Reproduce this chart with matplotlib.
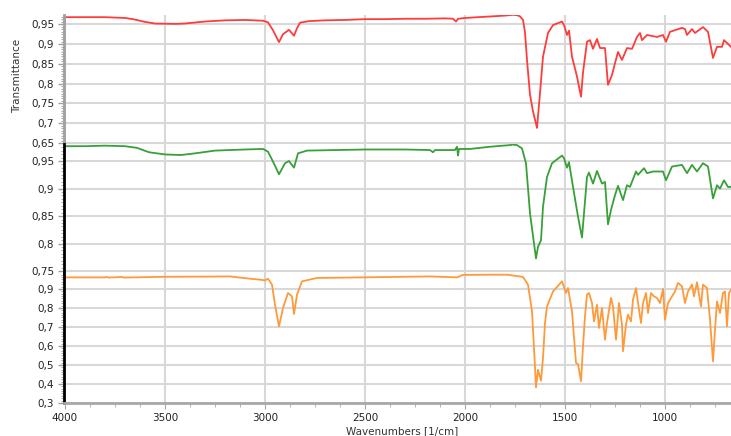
import matplotlib
matplotlib.use('Agg')
import matplotlib.pyplot as plt
from matplotlib.ticker import MultipleLocator, FuncFormatter
import numpy as np

# spectrum 1 (top, red)
red_wn = [4000, 3900, 3800, 3700, 3660, 3600, 3550, 3450, 3400, 3300, 3200, 3100,
          3010, 2985, 2960, 2930, 2910, 2880, 2855, 2840, 2825, 2780, 2700, 2600,
          2500, 2400, 2300, 2200, 2100, 2060, 2045, 2035, 2000, 1900, 1800, 1760,
          1740, 1725, 1710, 1700, 1690, 1675, 1660, 1640, 1625, 1610, 1585, 1560,
          1515, 1505, 1490, 1480, 1465, 1440, 1420, 1410, 1390, 1375, 1360, 1340,
          1325, 1300, 1285, 1265, 1250, 1235, 1215, 1190, 1165, 1140, 1125, 1115,
          1090, 1040, 1010, 995, 975, 915, 900, 890, 865, 850, 810, 785,
          760, 740, 715, 705, 670]
red_t = [0.968, 0.968, 0.968, 0.966, 0.963, 0.956, 0.952, 0.951, 0.952, 0.957, 0.960, 0.961,
         0.959, 0.955, 0.935, 0.905, 0.925, 0.936, 0.921, 0.940, 0.954, 0.958, 0.960, 0.961,
         0.963, 0.963, 0.964, 0.964, 0.965, 0.964, 0.957, 0.964, 0.966, 0.969, 0.972, 0.974,
         0.973, 0.970, 0.961, 0.930, 0.860, 0.772, 0.730, 0.688, 0.776, 0.868, 0.928, 0.948,
         0.957, 0.948, 0.923, 0.934, 0.868, 0.818, 0.767, 0.828, 0.906, 0.910, 0.888, 0.913,
         0.890, 0.890, 0.797, 0.822, 0.852, 0.880, 0.860, 0.890, 0.888, 0.918, 0.928, 0.910,
         0.923, 0.918, 0.923, 0.906, 0.931, 0.941, 0.938, 0.923, 0.938, 0.928, 0.943, 0.931,
         0.865, 0.893, 0.893, 0.910, 0.893]

# spectrum 2 (middle, green)
green_wn = [4000, 3900, 3800, 3700, 3640, 3580, 3500, 3420, 3350, 3250, 3100, 3010,
            2985, 2960, 2930, 2900, 2880, 2855, 2835, 2790, 2500, 2300, 2175, 2160,
            2150, 2050, 2040, 2035, 2030, 1975, 1875, 1775, 1760, 1740, 1715, 1695,
            1675, 1645, 1635, 1620, 1610, 1590, 1565, 1515, 1505, 1490, 1480, 1460,
            1435, 1415, 1405, 1390, 1380, 1360, 1340, 1315, 1300, 1285, 1270, 1250,
            1235, 1210, 1190, 1175, 1145, 1135, 1105, 1090, 1060, 1010, 995, 965,
            915, 890, 865, 840, 810, 785, 760, 740, 725, 705, 685, 670]
green_t = [0.977, 0.977, 0.978, 0.977, 0.974, 0.966, 0.962, 0.961, 0.964, 0.969, 0.971, 0.972,
           0.967, 0.949, 0.926, 0.946, 0.950, 0.938, 0.964, 0.969, 0.971, 0.971, 0.970, 0.966,
           0.970, 0.970, 0.976, 0.960, 0.972, 0.972, 0.976, 0.979, 0.980, 0.979, 0.973, 0.946,
           0.855, 0.773, 0.794, 0.806, 0.867, 0.921, 0.946, 0.960, 0.955, 0.938, 0.948, 0.903,
           0.849, 0.811, 0.855, 0.921, 0.929, 0.909, 0.932, 0.909, 0.912, 0.835, 0.861, 0.888,
           0.905, 0.879, 0.906, 0.903, 0.931, 0.925, 0.937, 0.928, 0.931, 0.931, 0.915, 0.940,
           0.943, 0.928, 0.943, 0.931, 0.946, 0.940, 0.882, 0.906, 0.900, 0.915, 0.903, 0.903]

# spectrum 3 (bottom, orange)
orange_wn = [4000, 3800, 3790, 3780, 3715, 3705, 3500, 3300, 3175, 3075, 3025, 3000,
             2985, 2965, 2950, 2930, 2910, 2885, 2865, 2855, 2840, 2815, 2740, 2510,
             2175, 2040, 2010, 1875, 1790, 1725, 1710, 1685, 1665, 1655, 1645, 1635,
             1620, 1610, 1600, 1590, 1560, 1515, 1495, 1485, 1465, 1445, 1435, 1420,
             1410, 1400, 1390, 1380, 1365, 1355, 1340, 1330, 1315, 1300, 1290, 1270,
             1260, 1245, 1230, 1215, 1210, 1195, 1185, 1170, 1160, 1145, 1130, 1120,
             1110, 1095, 1085, 1070, 1055, 1040, 1025, 1010, 1000, 985, 965, 950,
             935, 915, 900, 885, 865, 855, 840, 820, 810, 790, 775, 760,
             750, 740, 725, 710, 700, 690, 680, 670]
orange_t = [0.961, 0.961, 0.963, 0.960, 0.963, 0.960, 0.964, 0.965, 0.966, 0.954, 0.949, 0.945,
            0.954, 0.923, 0.817, 0.703, 0.800, 0.879, 0.861, 0.768, 0.870, 0.940, 0.958, 0.961,
            0.966, 0.961, 0.974, 0.975, 0.975, 0.966, 0.963, 0.923, 0.782, 0.589, 0.382, 0.475,
            0.417, 0.537, 0.721, 0.808, 0.887, 0.940, 0.879, 0.905, 0.782, 0.511, 0.505, 0.414,
            0.598, 0.756, 0.870, 0.879, 0.826, 0.729, 0.817, 0.695, 0.800, 0.633, 0.721, 0.853,
            0.808, 0.633, 0.826, 0.712, 0.572, 0.712, 0.765, 0.729, 0.844, 0.905, 0.791, 0.721,
            0.826, 0.879, 0.774, 0.879, 0.861, 0.853, 0.826, 0.900, 0.738, 0.826, 0.861, 0.887,
            0.932, 0.914, 0.826, 0.887, 0.923, 0.861, 0.935, 0.808, 0.923, 0.905, 0.738, 0.519,
            0.686, 0.835, 0.774, 0.879, 0.887, 0.703, 0.879, 0.896]

# y range and tick step per panel
panels = [
    (red_wn, red_t, '#ff3c3c', (0.6475, 0.9735), 0.05, '#a0a0a0'),
    (green_wn, green_t, '#38a038', (0.7465, 0.981), 0.05, 'black'),
    (orange_wn, orange_t, '#ff9a3a', (0.3, 0.984), 0.1, 'black'),
]

W, H = 731, 436
fig = plt.figure(figsize=(W / 100, H / 100), dpi=100)

left = 64 / W
width = 1 - left
edges = [15, 144, 273, 403]

comma = FuncFormatter(lambda v, p: ('%g' % round(v, 3)).replace('.', ','))

axes = []
for i, (wn, t, col, ylim, step, spine_col) in enumerate(panels):
    top, bot = edges[i], edges[i + 1]
    ax = fig.add_axes([left, 1 - bot / H, width, (bot - top) / H])
    ax.plot(wn, t, color=col, lw=1.3, solid_joinstyle='round')
    ax.set_xlim(4005, 670)
    ax.set_ylim(*ylim)

    ax.yaxis.set_major_locator(MultipleLocator(step))
    ax.yaxis.set_minor_locator(MultipleLocator(step / 8))
    ax.yaxis.set_major_formatter(comma)
    ax.xaxis.set_major_locator(MultipleLocator(500))
    ax.xaxis.set_minor_locator(MultipleLocator(125))

    ax.grid(True, which='major', color='#d8d8d8', lw=1.5)
    ax.set_axisbelow(True)

    for s in ['top', 'right', 'bottom']:
        ax.spines[s].set_visible(False)
    ax.spines['left'].set_color(spine_col)
    ax.spines['left'].set_linewidth(2)

    ax.tick_params(axis='y', which='major', length=4, width=1, color='#a0a0a0',
                   labelsize=7.5, labelcolor='#222222', pad=3)
    ax.tick_params(axis='y', which='minor', length=2.5, width=0.8, color='#b0b0b0')

    if i < 2:
        ax.tick_params(axis='x', which='both', bottom=False, labelbottom=False)
    else:
        ax.spines['bottom'].set_visible(True)
        ax.spines['bottom'].set_color('#a8a8a8')
        ax.spines['bottom'].set_linewidth(2)
        ax.tick_params(axis='x', which='major', length=4, color='#a8a8a8',
                       labelsize=7.5, labelcolor='#222222', pad=3)
        ax.tick_params(axis='x', which='minor', length=3, color='#a8a8a8')
    axes.append(ax)

fig.text(17 / W, 1 - 76 / H, 'Transmittance', rotation=90, ha='center', va='center',
         fontsize=7.5, color='#333333')
fig.text(402 / W, 1 - 431 / H, 'Wavenumbers [1/cm]', ha='center', va='center',
         fontsize=7.5, color='#333333')

fig.savefig('out.png', dpi=100)
